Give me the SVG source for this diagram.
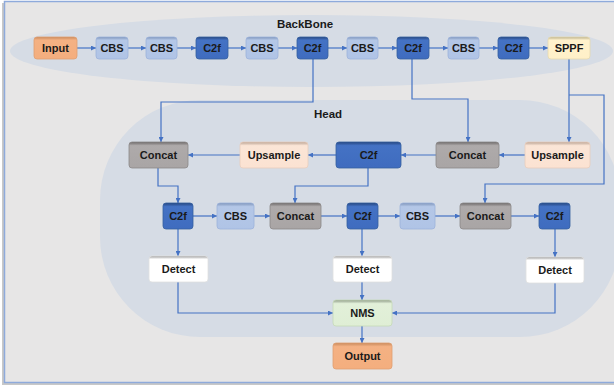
<svg xmlns="http://www.w3.org/2000/svg" width="614" height="386" viewBox="0 0 614 386">
<defs>
<linearGradient id="gOr" x1="0" y1="0" x2="0" y2="1"><stop offset="0" stop-color="#c98a5c"/><stop offset="0.14" stop-color="#f4b183"/><stop offset="1" stop-color="#f4ae7e"/></linearGradient>
<linearGradient id="gCbs" x1="0" y1="0" x2="0" y2="1"><stop offset="0" stop-color="#7f95ba"/><stop offset="0.14" stop-color="#b4c7e7"/><stop offset="1" stop-color="#b0c4e6"/></linearGradient>
<linearGradient id="gC2f" x1="0" y1="0" x2="0" y2="1"><stop offset="0" stop-color="#25467f"/><stop offset="0.14" stop-color="#4472c4"/><stop offset="1" stop-color="#3f6cbf"/></linearGradient>
<linearGradient id="gSppf" x1="0" y1="0" x2="0" y2="1"><stop offset="0" stop-color="#b9ae8a"/><stop offset="0.14" stop-color="#fff2cc"/><stop offset="1" stop-color="#fff0c8"/></linearGradient>
<linearGradient id="gCat" x1="0" y1="0" x2="0" y2="1"><stop offset="0" stop-color="#6e6a6a"/><stop offset="0.14" stop-color="#aeaaaa"/><stop offset="1" stop-color="#a9a5a5"/></linearGradient>
<linearGradient id="gUp" x1="0" y1="0" x2="0" y2="1"><stop offset="0" stop-color="#b9a293"/><stop offset="0.14" stop-color="#fbe5d6"/><stop offset="1" stop-color="#fbe2d2"/></linearGradient>
<linearGradient id="gDet" x1="0" y1="0" x2="0" y2="1"><stop offset="0" stop-color="#9a9a9a"/><stop offset="0.12" stop-color="#ffffff"/><stop offset="1" stop-color="#ffffff"/></linearGradient>
<linearGradient id="gNms" x1="0" y1="0" x2="0" y2="1"><stop offset="0" stop-color="#8e9a88"/><stop offset="0.14" stop-color="#e2f0d9"/><stop offset="1" stop-color="#dfeed5"/></linearGradient>
<marker id="ah" viewBox="0 0 6 6" refX="6" refY="3" markerWidth="5" markerHeight="5" markerUnits="userSpaceOnUse" orient="auto">
<path d="M0,0 L6,3 L0,6 z" fill="#4472c4"/>
</marker>
</defs>
<style>
text{font-family:"Liberation Sans",Arial,sans-serif;font-weight:bold;font-size:11px;fill:#1a1a1a;text-anchor:middle;dominant-baseline:central}
.lbl{font-size:11.5px}
rect.n{stroke-width:0.8}
.or{fill:url(#gOr);stroke:#e0a072}
.cbs{fill:url(#gCbs);stroke:#9db3da}
.c2f{fill:url(#gC2f);stroke:#36609f}
.sppf{fill:url(#gSppf);stroke:#e6d9b0}
.cat{fill:url(#gCat);stroke:#8c8888}
.up{fill:url(#gUp);stroke:#e8cdbc}
.det{fill:url(#gDet);stroke:#e0e0e0}
.nms{fill:url(#gNms);stroke:#c5d9b8}
#connectors path{fill:none;stroke:#4472c4;stroke-width:1.2}
#connectors path.a{marker-end:url(#ah)}
</style>
<rect x="2" y="3" width="620" height="382" fill="#c8c8c8"/>
<rect x="4.5" y="1.5" width="620" height="381" fill="#e7e6e6" stroke="#8eaadb" stroke-width="1.5"/>
<ellipse cx="311.5" cy="51" rx="301.5" ry="36" fill="#d6dce5"/>
<rect x="100" y="100" width="520" height="237" rx="100" ry="100" fill="#d6dce5"/>
<text class="lbl" x="305" y="24">BackBone</text>
<text class="lbl" x="328" y="114">Head</text>

<g id="connectors">
<path class="a" d="M77,48 H96"/>
<path class="a" d="M128,48 H146"/>
<path class="a" d="M177,48 H196"/>
<path class="a" d="M228,48 H246"/>
<path class="a" d="M278,48 H297"/>
<path class="a" d="M328,48 H347"/>
<path class="a" d="M378,48 H397"/>
<path class="a" d="M429,48 H448"/>
<path class="a" d="M479,48 H498"/>
<path class="a" d="M529,48 H548"/>
<path class="a" d="M313,59 V102 H161 V142"/>
<path class="a" d="M412,59 V99 H468 V142"/>
<path class="a" d="M569,59 V142"/>
<path class="a" d="M569,95 H604 V184 H485 V203"/>
<path class="a" d="M525,155 H499"/>
<path class="a" d="M436,155 H401"/>
<path class="a" d="M336,155 H308"/>
<path class="a" d="M240,155 H188"/>
<path class="a" d="M158,168 V186 H178 V203"/>
<path class="a" d="M368,168 V186 H295 V203"/>
<path class="a" d="M193,216 H217"/>
<path class="a" d="M254,216 H270"/>
<path class="a" d="M321,216 H347"/>
<path class="a" d="M378,216 H400"/>
<path class="a" d="M435,216 H460"/>
<path class="a" d="M511,216 H539"/>
<path class="a" d="M178,229 V256"/>
<path class="a" d="M362,229 V256"/>
<path class="a" d="M555,229 V257"/>
<path class="a" d="M178,282 V313 H333"/>
<path class="a" d="M362,282 V300"/>
<path class="a" d="M555,283 V313 H392"/>
<path class="a" d="M362,326 V343"/>
</g>

<g id="input"><rect class="n or" x="34" y="37" width="43" height="22" rx="3"/><text x="55.5" y="48">Input</text></g>
<g id="bb_cbs1"><rect class="n cbs" x="96" y="37" width="32" height="22" rx="3"/><text x="112" y="48">CBS</text></g>
<g id="bb_cbs2"><rect class="n cbs" x="146" y="37" width="31" height="22" rx="3"/><text x="161.5" y="48">CBS</text></g>
<g id="bb_c2f1"><rect class="n c2f" x="196" y="37" width="32" height="22" rx="3"/><text x="212" y="48">C2f</text></g>
<g id="bb_cbs3"><rect class="n cbs" x="246" y="37" width="32" height="22" rx="3"/><text x="262" y="48">CBS</text></g>
<g id="bb_c2f2"><rect class="n c2f" x="297" y="37" width="31" height="22" rx="3"/><text x="312.5" y="48">C2f</text></g>
<g id="bb_cbs4"><rect class="n cbs" x="347" y="37" width="31" height="22" rx="3"/><text x="362.5" y="48">CBS</text></g>
<g id="bb_c2f3"><rect class="n c2f" x="397" y="37" width="32" height="22" rx="3"/><text x="413" y="48">C2f</text></g>
<g id="bb_cbs5"><rect class="n cbs" x="448" y="37" width="31" height="22" rx="3"/><text x="463.5" y="48">CBS</text></g>
<g id="bb_c2f4"><rect class="n c2f" x="498" y="37" width="31" height="22" rx="3"/><text x="513.5" y="48">C2f</text></g>
<g id="sppf"><rect class="n sppf" x="548" y="37" width="42" height="22" rx="3"/><text x="569" y="48">SPPF</text></g>

<g id="h_concat1"><rect class="n cat" x="129" y="142" width="59" height="26" rx="3"/><text x="158.5" y="155">Concat</text></g>
<g id="h_up1"><rect class="n up" x="240" y="142" width="68" height="26" rx="3"/><text x="274" y="155">Upsample</text></g>
<g id="h_c2f1"><rect class="n c2f" x="336" y="142" width="65" height="26" rx="3"/><text x="368.5" y="155">C2f</text></g>
<g id="h_concat2"><rect class="n cat" x="436" y="142" width="63" height="26" rx="3"/><text x="467.5" y="155">Concat</text></g>
<g id="h_up2"><rect class="n up" x="525" y="142" width="65" height="26" rx="3"/><text x="557.5" y="155">Upsample</text></g>

<g id="h_c2f2"><rect class="n c2f" x="163" y="203" width="30" height="26" rx="3"/><text x="178" y="216">C2f</text></g>
<g id="h_cbs1"><rect class="n cbs" x="217" y="203" width="37" height="26" rx="3"/><text x="235.5" y="216">CBS</text></g>
<g id="h_concat3"><rect class="n cat" x="270" y="203" width="51" height="26" rx="3"/><text x="295.5" y="216">Concat</text></g>
<g id="h_c2f3"><rect class="n c2f" x="347" y="203" width="31" height="26" rx="3"/><text x="362.5" y="216">C2f</text></g>
<g id="h_cbs2"><rect class="n cbs" x="400" y="203" width="35" height="26" rx="3"/><text x="417.5" y="216">CBS</text></g>
<g id="h_concat4"><rect class="n cat" x="460" y="203" width="51" height="26" rx="3"/><text x="485.5" y="216">Concat</text></g>
<g id="h_c2f4"><rect class="n c2f" x="539" y="203" width="31" height="26" rx="3"/><text x="554.5" y="216">C2f</text></g>

<g id="detect1"><rect class="n det" x="149" y="256" width="59" height="26" rx="3"/><text x="178.5" y="269">Detect</text></g>
<g id="detect2"><rect class="n det" x="333" y="256" width="59" height="26" rx="3"/><text x="362.5" y="269">Detect</text></g>
<g id="detect3"><rect class="n det" x="526" y="257" width="58" height="26" rx="3"/><text x="555" y="270">Detect</text></g>
<g id="nms"><rect class="n nms" x="333" y="300" width="59" height="26" rx="3"/><text x="362.5" y="313">NMS</text></g>
<g id="output"><rect class="n or" x="333" y="343" width="59" height="26" rx="3"/><text x="362.5" y="356">Output</text></g>
</svg>
